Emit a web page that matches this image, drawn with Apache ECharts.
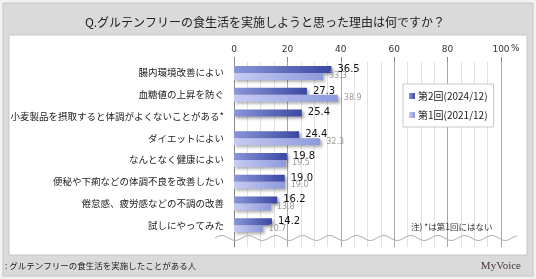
<!DOCTYPE html>
<html>
<head>
<meta charset="utf-8">
<script src="https://cdn.jsdelivr.net/npm/echarts@6/dist/echarts.min.js"></script>
<style>
  html, body { margin: 0; padding: 0; background: #f2f2f2; }
  #main { width: 536px; height: 279px; }
</style>
</head>
<body>
<div id="main"></div>
<script>
var categories = [
  '腸内環境改善によい',
  '血糖値の上昇を防ぐ',
  '小麦製品を摂取すると体調がよくないことがある*',
  'ダイエットによい',
  'なんとなく健康によい',
  '便秘や下痢などの体調不良を改善したい',
  '倦怠感、疲労感などの不調の改善',
  '試しにやってみた'
];
var round2 = [36.5, 27.3, 25.4, 24.4, 19.8, 19.0, 16.2, 14.2];
var round1 = [33.3, 38.9, null, 32.3, 19.5, 19.0, 13.8, 10.7];
var seriesNames = ['第2回(2024/12)', '第1回(2021/12)'];
var xTicks = [0, 20, 40, 60, 80, 100];

var chartDom = document.getElementById('main');
var myChart = echarts.init(chartDom);
var option;

var jp = '"Noto Sans CJK JP", "Noto Sans", sans-serif';
var num = '"DejaVu Sans", Verdana, sans-serif';

// 下端の波線（装飾）
var wavePts = [];
for (var x = 215; x <= 517; x += 2) {
  wavePts.push([x, 238 - 2.5 * Math.sin((x - 215) / 27 * 2 * Math.PI)]);
}

var xCommon = {
  type: 'value',
  min: xTicks[0],
  max: xTicks[xTicks.length - 1],
  interval: 20,
  minorTick: { show: false, splitNumber: 4 },
  splitLine: { show: true, lineStyle: { color: '#a8a8a8', width: 1 } },
  minorSplitLine: { show: true, lineStyle: { color: '#e2e2e2', width: 1 } }
};

option = {
  animation: false,
  backgroundColor: '#f2f2f2',
  graphic: [
    { type: 'rect', z: -10, shape: { x: 3, y: 3, width: 530, height: 273 },
      style: { fill: '#dadada', stroke: '#c6c6c6', lineWidth: 1 } },
    { type: 'rect', z: -9, shape: { x: 9, y: 35, width: 518, height: 220 },
      style: { fill: '#ffffff', stroke: '#c8c8c8', lineWidth: 1 } },
    { type: 'text', z: 100, x: 265, y: 22,
      style: { text: 'Q.グルテンフリーの食生活を実施しようと思った理由は何ですか？', font: '12px ' + jp,
        fill: '#222', align: 'center', verticalAlign: 'middle' } },
    { type: 'text', z: 100, x: 511, y: 49,
      style: { text: '%', font: '9px ' + num, fill: '#333', align: 'left', verticalAlign: 'middle' } },
    { type: 'polyline', z: 100, shape: { points: wavePts, smooth: 0 },
      style: { fill: null, stroke: '#b0b0b0', lineWidth: 1 } },
    { type: 'text', z: 100, x: 411, y: 227,
      style: { text: '注) *は第1回にはない', font: '8.5px ' + jp, fill: '#333', align: 'left', verticalAlign: 'middle' } },
    { type: 'text', z: 100, x: 5, y: 266,
      style: { text: ': グルテンフリーの食生活を実施したことがある人', font: '8.5px ' + jp, fill: '#222', align: 'left', verticalAlign: 'middle' } },
    { type: 'text', z: 100, x: 521, y: 266,
      style: { text: 'MyVoice', font: '11px "Liberation Serif", "DejaVu Serif", serif', fill: '#4a3a3a', align: 'right', verticalAlign: 'middle' } }
  ],
  legend: {
    orient: 'vertical',
    left: 403,
    top: 84,
    width: 92,
    backgroundColor: '#ffffff',
    borderColor: '#c8c8c8',
    borderWidth: 1,
    padding: [7, 6, 7, 6],
    itemGap: 9,
    itemWidth: 6,
    itemHeight: 6,
    icon: 'rect',
    textStyle: { fontFamily: jp, fontSize: 10, color: '#222', padding: [0, 0, 0, -2] },
    data: seriesNames
  },
  grid: [
    { left: 234, right: 35, top: 62, bottom: 43 },
    { left: 234, right: 35, top: 236, height: 11 }
  ],
  xAxis: [
    Object.assign({}, xCommon, {
      gridIndex: 0,
      position: 'top',
      axisLine: { show: false },
      axisTick: { show: true, length: 5, lineStyle: { color: '#888' } },
      axisLabel: { margin: 8, fontFamily: num, fontSize: 9, color: '#333' }
    }),
    Object.assign({}, xCommon, {
      gridIndex: 1,
      axisLine: { show: false },
      axisTick: { show: false },
      axisLabel: { show: false }
    })
  ],
  yAxis: [
    {
      gridIndex: 0,
      type: 'category',
      inverse: true,
      data: categories,
      axisLine: { show: true, lineStyle: { color: '#888' } },
      axisTick: { show: false },
      axisLabel: { margin: 10, fontFamily: jp, fontSize: 9.5, color: '#222' }
    },
    {
      gridIndex: 1,
      type: 'category',
      data: [''],
      axisLine: { show: true, lineStyle: { color: '#888' } },
      axisTick: { show: false },
      axisLabel: { show: false }
    }
  ],
  series: [
    {
      name: seriesNames[0],
      type: 'bar',
      data: round2,
      barWidth: 7,
      barGap: '0%',
      itemStyle: {
        color: new echarts.graphic.LinearGradient(0, 0, 1, 0, [
          { offset: 0, color: '#8a96d8' },
          { offset: 1, color: '#3a48a4' }
        ]),
        shadowColor: 'rgba(0,0,0,0.35)',
        shadowBlur: 3,
        shadowOffsetX: 2,
        shadowOffsetY: 2
      },
      label: {
        show: true,
        position: 'right',
        distance: 6,
        fontFamily: num,
        fontSize: 10,
        color: '#111',
        formatter: function (p) { return p.value.toFixed(1); }
      }
    },
    {
      name: seriesNames[1],
      type: 'bar',
      data: round1,
      barWidth: 7,
      barGap: '0%',
      itemStyle: {
        color: new echarts.graphic.LinearGradient(0, 0, 1, 0, [
          { offset: 0, color: '#c6ccf2' },
          { offset: 1, color: '#8e99dc' }
        ]),
        shadowColor: 'rgba(0,0,0,0.3)',
        shadowBlur: 3,
        shadowOffsetX: 2,
        shadowOffsetY: 2
      },
      label: {
        show: true,
        position: 'right',
        distance: 6,
        fontFamily: num,
        fontSize: 8,
        color: '#9a9a9a',
        formatter: function (p) { return p.value == null ? '' : p.value.toFixed(1); }
      }
    }
  ]
};

option && myChart.setOption(option);
</script>
</body>
</html>
